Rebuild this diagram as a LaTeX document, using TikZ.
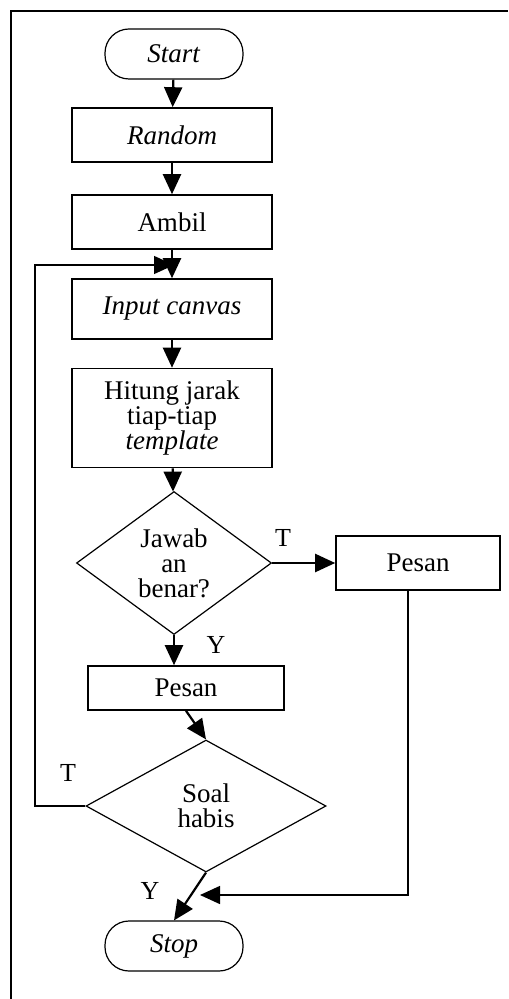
\documentclass[tikz,border=0pt]{standalone}
\usepackage{fontspec}
\setmainfont{Liberation Serif}
\usetikzlibrary{shapes.geometric,arrows.meta}
\begin{document}
\begin{tikzpicture}[x=0.5pt,y=-0.5pt,
  every node/.style={font=\fontsize{13.5}{12.5}\selectfont, align=center, inner sep=0pt},
  term/.style={draw, line width=0.6pt, rounded corners=12pt, minimum width=69pt, minimum height=25pt},
  proc/.style={draw, line width=0.8pt, minimum width=100pt},
  dec/.style={draw, diamond, line width=0.6pt},
  flow/.style={line width=1.1pt, -{Triangle[length=10pt,width=9pt]}},
  thinflow/.style={line width=0.7pt, -{Triangle[length=10pt,width=9pt]}},
  lab/.style={font=\fontsize{13}{13}\selectfont}
]
\useasboundingbox (0,0) rectangle (508,999);
\draw[line width=1pt] (11,999) -- (11,11) -- (508,11);

\node[term] (start) at (174,54) {\textit{Start}};
\node[proc, minimum height=27pt] (rand) at (172,135) {\textit{Random}};
\node[proc, minimum height=27pt] (ambil) at (172,222) {Ambil};
\node[proc, minimum height=30pt] (input) at (172,309) {\textit{Input canvas}};
\node[proc, minimum height=49.5pt] (hitung) at (172,418) {Hitung jarak\\tiap-tiap\\\textit{template}};
\node[dec, minimum width=97.5pt, minimum height=71.5pt] (d1) at (174,563) {Jawab\\an\\benar?};
\node[proc, minimum width=82pt, minimum height=27pt] (pesanR) at (418,563) {Pesan};
\node[proc, minimum width=98pt, minimum height=22pt] (pesan2) at (186,688) {Pesan};
\node[dec, minimum width=120pt, minimum height=66pt] (d2) at (206,806) {Soal\\habis};
\node[term] (stop) at (174,946) {\textit{Stop}};

\coordinate (j1) at (174,265);
\coordinate (j2) at (200,895);

\draw[flow] (start) -- (rand);
\draw[flow] (rand) -- (ambil);
\draw[flow] (ambil) -- (input);
\draw[flow] (input) -- (hitung);
\draw[flow] (hitung) -- (d1);
\draw[flow] (d1) -- (pesanR);
\draw[flow] (d1.south) -- (d1.south |- pesan2.north);
\draw[flow] (pesan2.south) -- (d2.north);
\draw[flow] (d2.south) -- (stop.north);
\draw[thinflow] (d2.west) -- (35,806) |- (j1);
\draw[thinflow] ([xshift=-5]pesanR.south) |- (j2);

\node[lab] (t1) at (283,538) {T};
\node[lab] (y1) at (216,645) {Y};
\node[lab] (t2) at (68,773) {T};
\node[lab] (y2) at (150,891) {Y};
\end{tikzpicture}
\end{document}
